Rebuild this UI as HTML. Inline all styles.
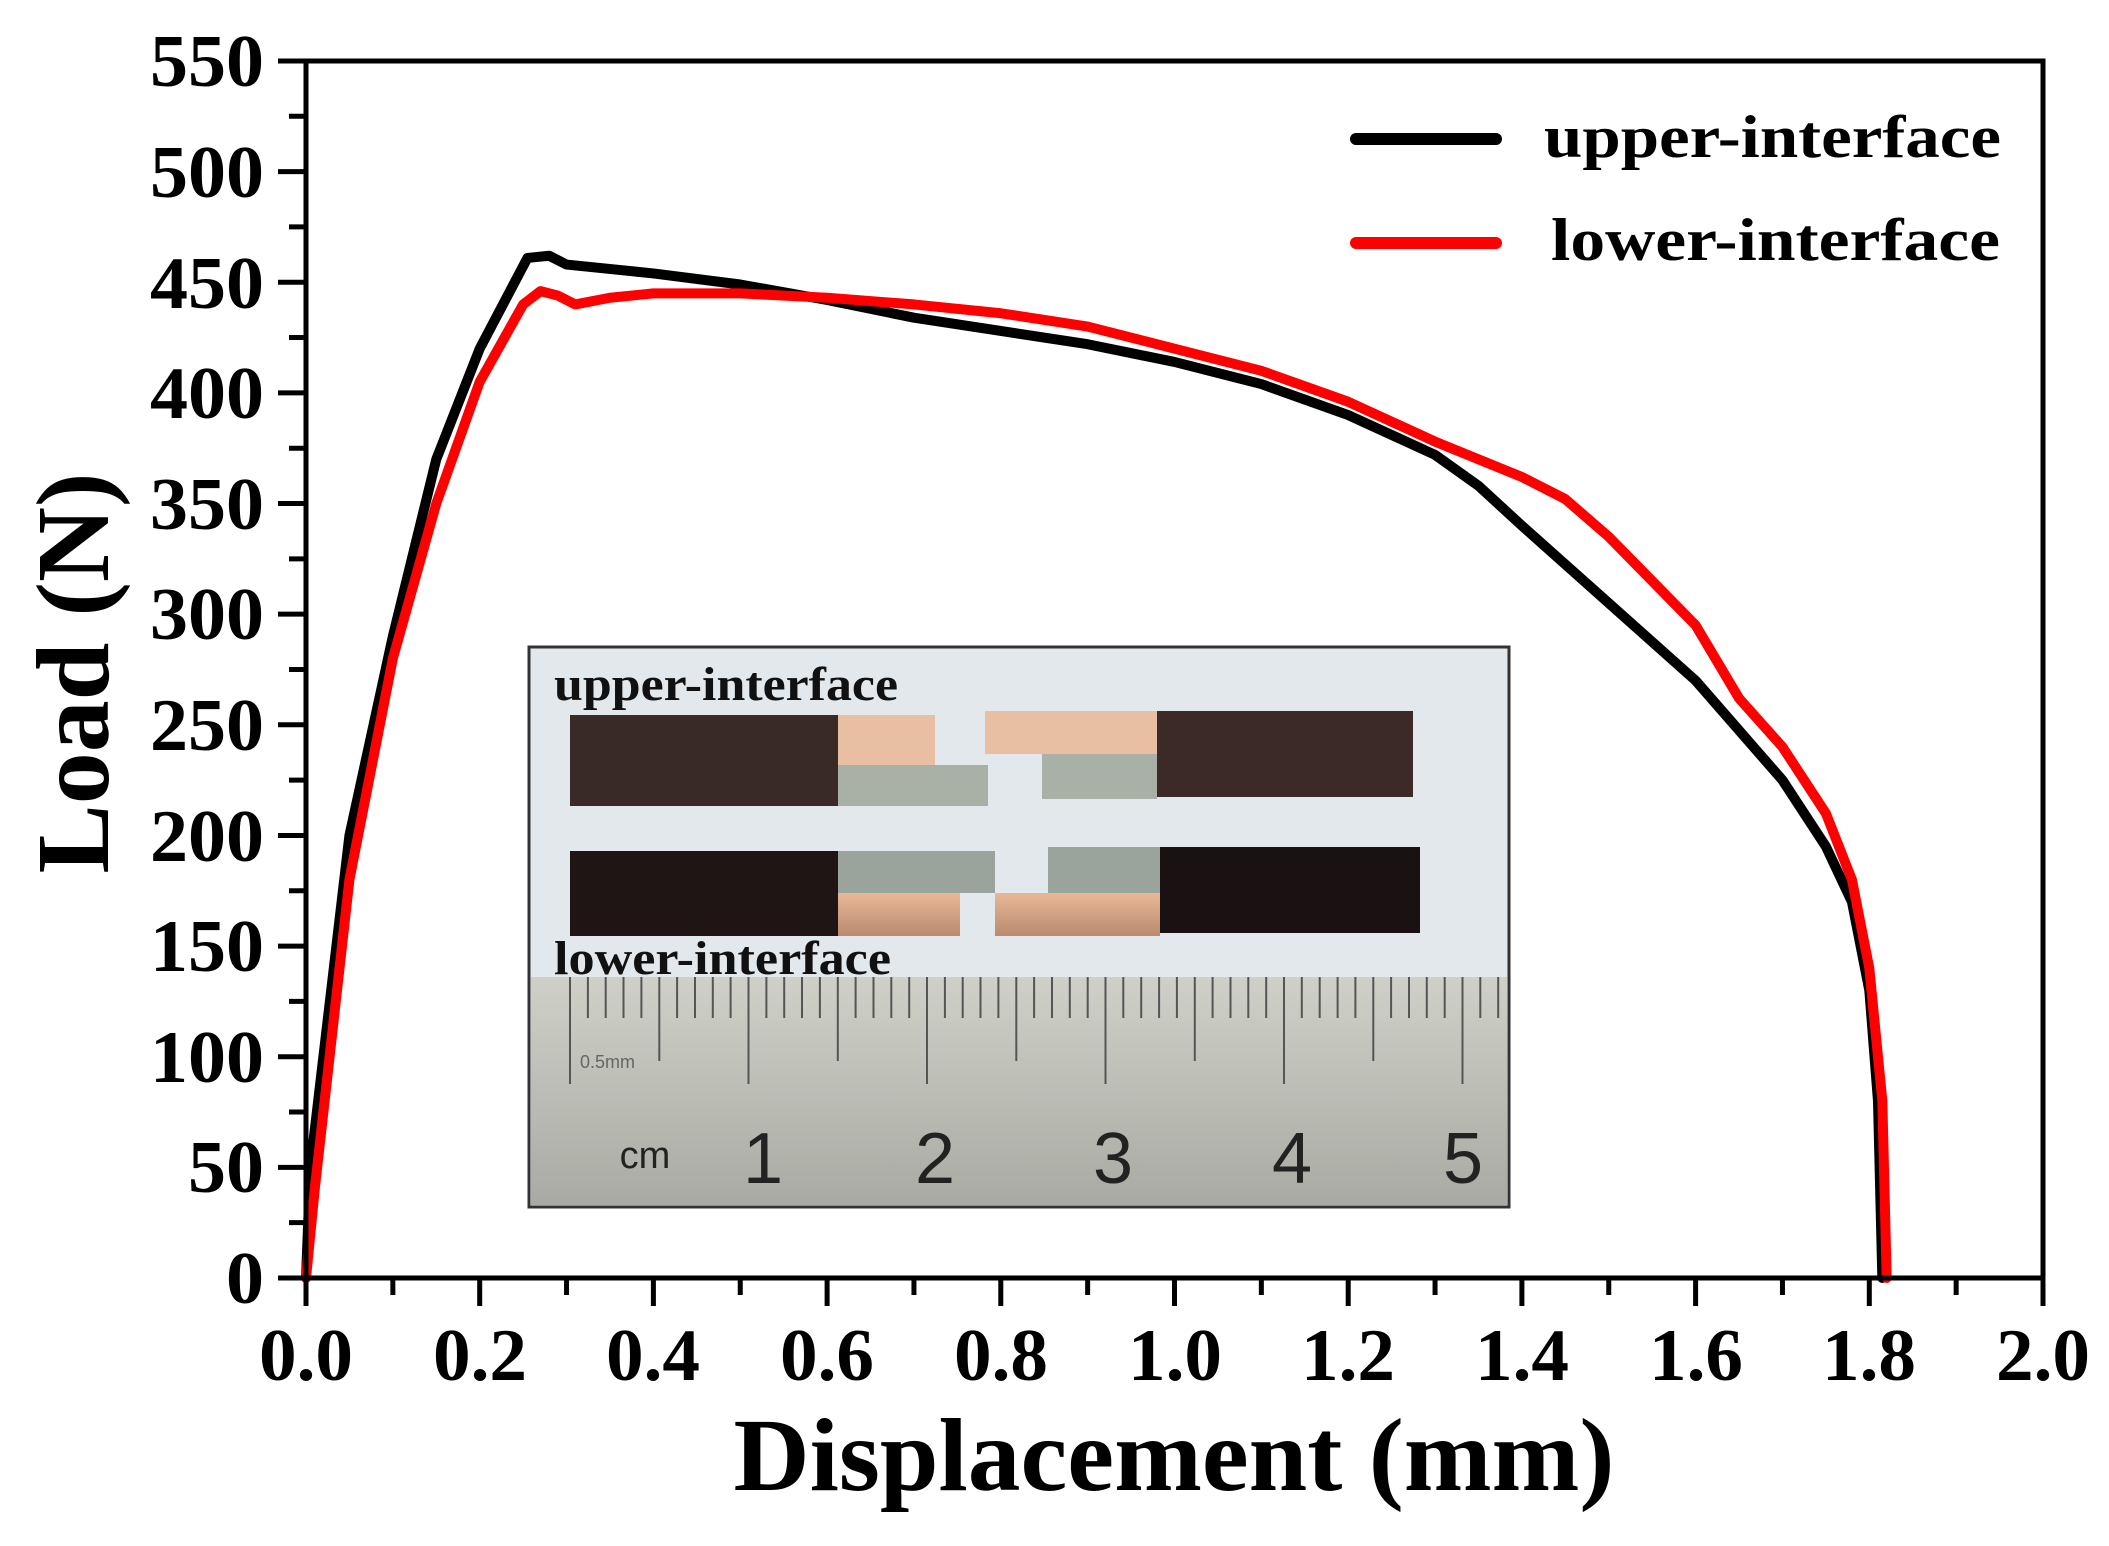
<!DOCTYPE html>
<html><head><meta charset="utf-8"><style>html,body{margin:0;padding:0;background:#fff}svg{display:block}</style></head>
<body>
<svg width="2109" height="1546" viewBox="0 0 2109 1546" xmlns="http://www.w3.org/2000/svg">
<defs>
<linearGradient id="rul" x1="0" y1="0" x2="0" y2="1"><stop offset="0" stop-color="#cfd0c8"/><stop offset="1" stop-color="#a9aaa3"/></linearGradient>
<linearGradient id="cu" x1="0" y1="0" x2="0" y2="1"><stop offset="0" stop-color="#e8b898"/><stop offset="1" stop-color="#b98a6c"/></linearGradient>
</defs>
<g>
<rect x="529" y="647" width="980" height="560" fill="#e3e8ec" stroke="#333" stroke-width="3"/>
<rect x="531" y="977" width="976" height="228" fill="url(#rul)"/>
<rect x="570" y="715" width="268" height="91" fill="#3a2a25"/>
<rect x="838" y="715" width="97" height="50" fill="#e8bfa2"/>
<rect x="838" y="765" width="150" height="41" fill="#a9b0a6"/>
<rect x="985" y="711" width="172" height="43" fill="#e8bfa2"/>
<rect x="1042" y="754" width="115" height="45" fill="#a9b0a6"/>
<rect x="1157" y="711" width="256" height="86" fill="#3b2a25"/>
<rect x="570" y="851" width="268" height="85" fill="#1f1514"/>
<rect x="838" y="851" width="157" height="42" fill="#9aa39c"/>
<rect x="838" y="893" width="122" height="43" fill="url(#cu)"/>
<rect x="1048" y="847" width="112" height="46" fill="#9aa39c"/>
<rect x="995" y="893" width="165" height="43" fill="url(#cu)"/>
<rect x="1160" y="847" width="260" height="86" fill="#1a1212"/>
<g id="ticks" stroke="#555" stroke-width="2"></g>
<text x="580" y="1068" font-family="Liberation Sans, sans-serif" font-size="18" fill="#666">0.5mm</text>
<g font-family="Liberation Sans, sans-serif" fill="#222" text-anchor="middle">
<text x="645" y="1168" font-size="38">cm</text>
<text x="763" y="1183" font-size="72">1</text>
<text x="935" y="1183" font-size="72">2</text>
<text x="1113" y="1183" font-size="72">3</text>
<text x="1292" y="1183" font-size="72">4</text>
<text x="1463" y="1183" font-size="72">5</text>
</g>
<g font-family="Liberation Serif, serif" font-weight="bold" fill="#111" font-size="48">
<text x="554" y="700" textLength="344" lengthAdjust="spacingAndGlyphs">upper-interface</text>
<text x="554" y="974" textLength="337" lengthAdjust="spacingAndGlyphs">lower-interface</text>
</g>
</g>
<g transform="translate(306,1278) scale(868.5,-2.2127)" fill="none" stroke-linejoin="round" stroke-linecap="round">
<polyline vector-effect="non-scaling-stroke" stroke="#000" stroke-width="10" points="0,0 0.005,50 0.05,200 0.1,290 0.15,370 0.2,420 0.255,461 0.28,462 0.3,458 0.4,454 0.5,449 0.6,442 0.7,434 0.8,428 0.9,422 1.0,414 1.1,404 1.2,390 1.3,372 1.35,358 1.4,340 1.5,305 1.6,270 1.7,225 1.75,195 1.78,170 1.8,130 1.81,80 1.815,0"/>
<polyline vector-effect="non-scaling-stroke" stroke="#f00" stroke-width="10" points="0,0 0.01,40 0.05,180 0.1,280 0.15,350 0.2,405 0.25,440 0.27,446 0.29,444 0.31,440 0.35,443 0.4,445 0.5,445 0.6,443 0.7,440 0.8,436 0.9,430 1.0,420 1.1,410 1.2,396 1.3,378 1.4,362 1.45,352 1.5,335 1.6,295 1.65,262 1.7,240 1.75,210 1.78,180 1.8,140 1.815,80 1.82,0"/>
</g>
<rect x="306" y="61" width="1737" height="1217" fill="none" stroke="#000" stroke-width="5"/>
<g id="axt" stroke="#000" stroke-width="5"></g>
<g font-family="Liberation Serif, serif" font-weight="bold" font-size="74" text-anchor="end" fill="#000" lengthAdjust="spacingAndGlyphs">
<text x="264" y="1303" textLength="38" lengthAdjust="spacingAndGlyphs">0</text>
<text x="264" y="1192" textLength="76" lengthAdjust="spacingAndGlyphs">50</text>
<text x="264" y="1082" textLength="114" lengthAdjust="spacingAndGlyphs">100</text>
<text x="264" y="971" textLength="114" lengthAdjust="spacingAndGlyphs">150</text>
<text x="264" y="861" textLength="114" lengthAdjust="spacingAndGlyphs">200</text>
<text x="264" y="750" textLength="114" lengthAdjust="spacingAndGlyphs">250</text>
<text x="264" y="639" textLength="114" lengthAdjust="spacingAndGlyphs">300</text>
<text x="264" y="529" textLength="114" lengthAdjust="spacingAndGlyphs">350</text>
<text x="264" y="418" textLength="114" lengthAdjust="spacingAndGlyphs">400</text>
<text x="264" y="308" textLength="114" lengthAdjust="spacingAndGlyphs">450</text>
<text x="264" y="197" textLength="114" lengthAdjust="spacingAndGlyphs">500</text>
<text x="264" y="86" textLength="114" lengthAdjust="spacingAndGlyphs">550</text>
</g>
<g font-family="Liberation Serif, serif" font-weight="bold" font-size="74" text-anchor="middle" fill="#000">
<text x="306" y="1380" textLength="94" lengthAdjust="spacingAndGlyphs">0.0</text>
<text x="480" y="1380" textLength="94" lengthAdjust="spacingAndGlyphs">0.2</text>
<text x="653" y="1380" textLength="94" lengthAdjust="spacingAndGlyphs">0.4</text>
<text x="827" y="1380" textLength="94" lengthAdjust="spacingAndGlyphs">0.6</text>
<text x="1001" y="1380" textLength="94" lengthAdjust="spacingAndGlyphs">0.8</text>
<text x="1175" y="1380" textLength="94" lengthAdjust="spacingAndGlyphs">1.0</text>
<text x="1348" y="1380" textLength="94" lengthAdjust="spacingAndGlyphs">1.2</text>
<text x="1522" y="1380" textLength="94" lengthAdjust="spacingAndGlyphs">1.4</text>
<text x="1696" y="1380" textLength="94" lengthAdjust="spacingAndGlyphs">1.6</text>
<text x="1869" y="1380" textLength="94" lengthAdjust="spacingAndGlyphs">1.8</text>
<text x="2043" y="1380" textLength="94" lengthAdjust="spacingAndGlyphs">2.0</text>
</g>
<text x="1174" y="1490" font-family="Liberation Serif, serif" font-weight="bold" font-size="104" text-anchor="middle" textLength="881" lengthAdjust="spacingAndGlyphs">Displacement (mm)</text>
<text transform="translate(108,673) rotate(-90)" font-family="Liberation Serif, serif" font-weight="bold" font-size="104" text-anchor="middle" textLength="401" lengthAdjust="spacingAndGlyphs">Load (N)</text>
<line x1="1356" y1="139" x2="1496" y2="139" stroke="#000" stroke-width="12" stroke-linecap="round"/>
<line x1="1356" y1="243" x2="1496" y2="243" stroke="#f00" stroke-width="12" stroke-linecap="round"/>
<g font-family="Liberation Serif, serif" font-weight="bold" font-size="60" fill="#000">
<text x="1544" y="157" textLength="457" lengthAdjust="spacingAndGlyphs">upper-interface</text>
<text x="1551" y="260" textLength="449" lengthAdjust="spacingAndGlyphs">lower-interface</text>
</g>
<script>
var ns="http://www.w3.org/2000/svg",g=document.getElementById('axt'),d="";
for(var i=0;i<=20;i++){var x=306+86.85*i;d+="M"+x+",1278V"+(1278+(i%2?17:28));}
for(var j=0;j<=22;j++){var y=1278-55.32*j;d+="M306,"+y+"H"+(306-(j%2?17:28));}
var p=document.createElementNS(ns,'path');p.setAttribute('d',d);g.appendChild(p);
var t=document.getElementById('ticks'),e="";
for(var k=0;k<=52;k++){var x=570+17.85*k;if(x>1500)break;var L=(k%10==0)?107:(k%5==0)?84:41;e+="M"+x.toFixed(1)+",977v"+L;}
var q=document.createElementNS(ns,'path');q.setAttribute('d',e);t.appendChild(q);
</script>
</svg>
</body></html>
